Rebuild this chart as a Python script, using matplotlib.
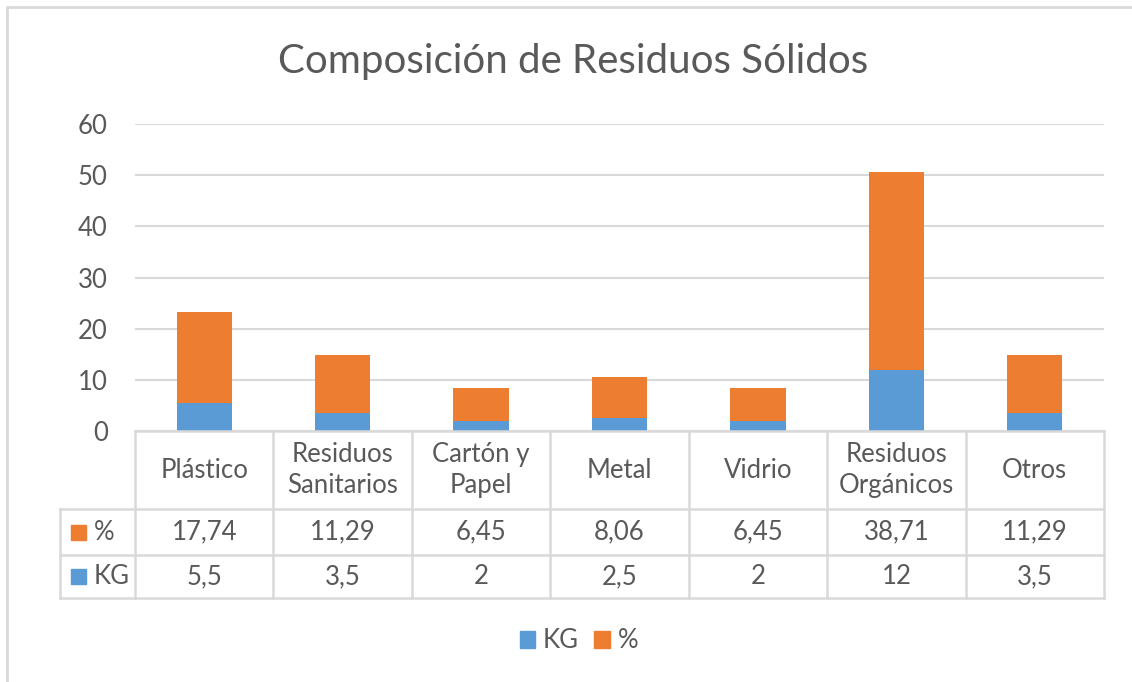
import matplotlib.pyplot as plt
from matplotlib.lines import Line2D
from matplotlib.patches import Patch, Rectangle
import numpy as np

categorias = ["Plástico", "Residuos\nSanitarios", "Cartón y\nPapel", "Metal",
              "Vidrio", "Residuos\nOrgánicos", "Otros"]
kg = [5.5, 3.5, 2, 2.5, 2, 12, 3.5]
porcentaje = [17.74, 11.29, 6.45, 8.06, 6.45, 38.71, 11.29]
kg_txt = ["5,5", "3,5", "2", "2,5", "2", "12", "3,5"]
pct_txt = ["17,74", "11,29", "6,45", "8,06", "6,45", "38,71", "11,29"]

AZUL = "#5B9BD5"
NARANJA = "#ED7D31"
GRIS = "#595959"
LINEA = "#D9D9D9"
FS = 18.5

plt.rcParams['font.family'] = ['Lato', 'DejaVu Sans']

W, H = 1132, 682
fig = plt.figure(figsize=(W / 100, H / 100), dpi=100)


def fx(px):
    return px / W


def fy(py):
    return 1 - py / H


# plot area in pixels
left, right, top, bottom = 135, 1104, 124, 431
ax = fig.add_axes([fx(left), fy(bottom), fx(right - left), (bottom - top) / H])

x = np.arange(len(categorias))
ax.bar(x, kg, width=0.4, color=AZUL, zorder=3)
ax.bar(x, porcentaje, width=0.4, bottom=kg, color=NARANJA, zorder=3)

ax.set_xlim(-0.5, len(categorias) - 0.5)
ax.set_ylim(0, 60)
ax.set_yticks(range(0, 61, 10))
ax.yaxis.grid(True, color=LINEA, linewidth=1.5, zorder=0)
ax.tick_params(axis='y', length=0, pad=19.5, labelsize=FS, labelcolor=GRIS)
ax.set_xticks([])
for s in ax.spines.values():
    s.set_visible(False)

fig.text(fx(573), fy(62), "Composición de Residuos Sólidos", ha='center', va='center',
         fontsize=29, color=GRIS)

# data table
row_y = [431, 509, 555, 598]
col_w = (right - left) / len(categorias)
tbl_left = 60


def hline(y, x0, x1):
    fig.add_artist(Line2D([fx(x0), fx(x1)], [fy(y), fy(y)], color=LINEA, linewidth=1.8))


def vline(xp, y0, y1):
    fig.add_artist(Line2D([fx(xp), fx(xp)], [fy(y0), fy(y1)], color=LINEA, linewidth=1.8))


hline(row_y[0], left, right)
for y in row_y[1:]:
    hline(y, tbl_left, right)
vline(tbl_left, row_y[1], row_y[3])
for i in range(len(categorias) + 1):
    vline(left + i * col_w, row_y[0], row_y[3])

for i, cat in enumerate(categorias):
    cx = fx(left + (i + 0.5) * col_w)
    fig.text(cx, fy((row_y[0] + row_y[1]) / 2), cat, ha='center', va='center',
             fontsize=FS, color=GRIS, linespacing=1.3)
    fig.text(cx, fy((row_y[1] + row_y[2]) / 2), pct_txt[i], ha='center', va='center',
             fontsize=FS, color=GRIS)
    fig.text(cx, fy((row_y[2] + row_y[3]) / 2), kg_txt[i], ha='center', va='center',
             fontsize=FS, color=GRIS)

# series keys in left column
for (y0, y1), col, lab in [((row_y[1], row_y[2]), NARANJA, "%"),
                           ((row_y[2], row_y[3]), AZUL, "KG")]:
    yc = (y0 + y1) / 2
    fig.add_artist(Rectangle((fx(71), fy(yc + 7.5)), fx(15), 15 / H, color=col,
                             transform=fig.transFigure))
    fig.text(fx(94), fy(yc), lab, ha='left', va='center', fontsize=FS, color=GRIS)

# legend
handles = [Patch(color=AZUL, label="KG"), Patch(color=NARANJA, label="%")]
fig.legend(handles=handles, loc='center', bbox_to_anchor=(fx(579), fy(641)), ncol=2,
           frameon=False, fontsize=FS, labelcolor=GRIS, handlelength=0.6,
           handleheight=0.6, handletextpad=0.3, columnspacing=0.6)

# chart border
fig.add_artist(Line2D([fx(7), fx(7), fx(W)], [0, fy(7), fy(7)], color=LINEA, linewidth=2))

fig.savefig("out.png", dpi=100)
